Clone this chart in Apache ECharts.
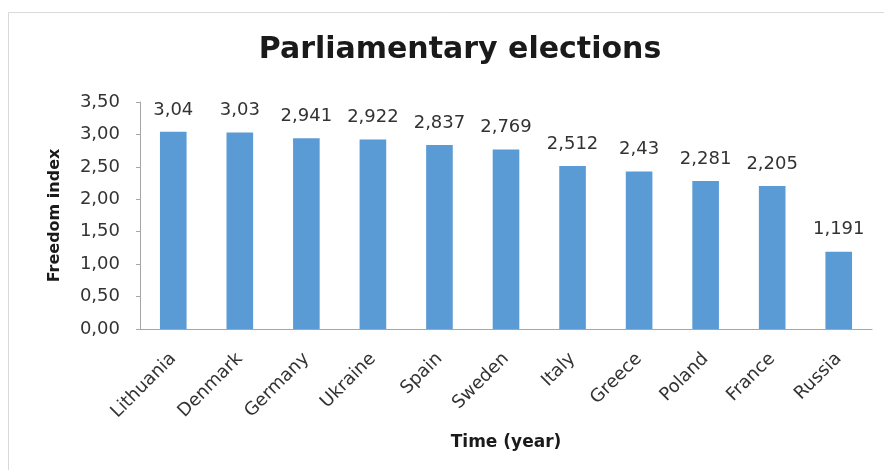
<!DOCTYPE html>
<html><head><meta charset="utf-8">
<script src="https://cdn.jsdelivr.net/npm/echarts@6/dist/echarts.min.js"></script>
<style>html,body{margin:0;padding:0;background:#fff}#c{width:884px;height:470px}</style>
</head><body><div id="c"></div>
<script>
var categories = ["Lithuania","Denmark","Germany","Ukraine","Spain","Sweden","Italy","Greece","Poland","France","Russia"];
var values = [3.04, 3.03, 2.941, 2.922, 2.837, 2.769, 2.512, 2.43, 2.281, 2.205, 1.191];
var labels = ["3,04","3,03","2,941","2,922","2,837","2,769","2,512","2,43","2,281","2,205","1,191"];
var chart = echarts.init(document.getElementById('c'));
var F = "'DejaVu Sans', sans-serif";
chart.setOption({
  animation: false,
  graphic: [{type:'rect', shape:{x:8.5,y:12.5,width:900,height:470}, style:{fill:null, stroke:'#d9d9d9', lineWidth:1}}],
  title: {text:'Parliamentary elections', left:455, top:30, textAlign:'center',
    textStyle:{fontFamily:F, fontSize:30, fontWeight:'bold', color:'#1a1a1a'}},
  grid: {left:140, right:12, top:102, bottom:141},
  xAxis: {type:'category', data:categories, name:'Time (year)', nameLocation:'middle', nameGap:105,
    nameTextStyle:{fontFamily:F, fontSize:17, fontWeight:'bold', color:'#1a1a1a'},
    axisLine:{lineStyle:{color:'#a6a6a6'}}, axisTick:{length:5, lineStyle:{color:'#a6a6a6'}},
    axisLabel:{rotate:45, fontFamily:F, fontSize:18, color:'#333', margin:27}},
  yAxis: {type:'value', min:0, max:3.5, interval:0.5, name:'Freedom index', nameLocation:'middle', nameGap:77,
    nameTextStyle:{fontFamily:F, fontSize:16, fontWeight:'bold', color:'#1a1a1a'},
    axisLine:{show:true, lineStyle:{color:'#a6a6a6'}}, axisTick:{show:true, length:4, lineStyle:{color:'#a6a6a6'}},
    splitLine:{show:false},
    axisLabel:{fontFamily:F, fontSize:18, color:'#333', margin:20, formatter:function(v){return v.toFixed(2).replace('.',',');}}},
  series: [{type:'bar', data:values, barWidth:'40%', itemStyle:{color:'#5B9BD5'},
    label:{show:true, position:'top', distance:13, fontFamily:F, fontSize:18, color:'#333',
      formatter:function(p){return labels[p.dataIndex];}}}]
});
</script></body></html>
